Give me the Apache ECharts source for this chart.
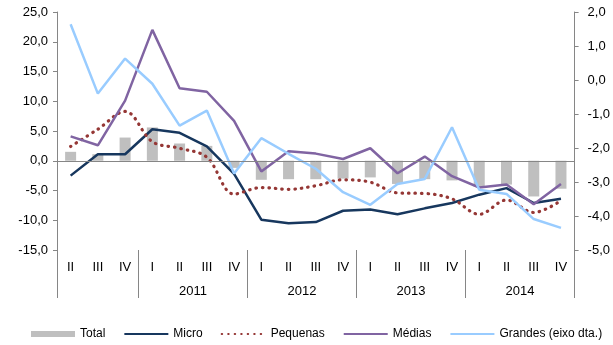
<!DOCTYPE html>
<html>
<head>
<meta charset="utf-8">
<script src="https://cdn.jsdelivr.net/npm/echarts@6/dist/echarts.min.js"></script>
<style>
  html, body { margin: 0; padding: 0; background: #fff; }
  #myChart { width: 613px; height: 345px; }
</style>
</head>
<body>
<div id="myChart"></div>
<script>
// trimestres (o 1º grupo é 2010, sem rótulo de ano)
const quarters = ['II', 'III', 'IV', 'I', 'II', 'III', 'IV', 'I', 'II', 'III', 'IV', 'I', 'II', 'III', 'IV', 'I', 'II', 'III', 'IV'];
const years = ['', '2011', '2012', '2013', '2014'];
const yearSizes = [3, 4, 4, 4, 4];

const total = [1.5, 1.1, 3.9, 5.6, 2.9, 2.5, -1.2, -3.2, -3.1, -3.1, -3.0, -2.8, -3.9, -3.1, -3.3, -4.4, -4.0, -6.0, -4.7];
const micro = [-2.5, 1.1, 1.1, 5.3, 4.7, 2.4, -2.2, -9.9, -10.5, -10.3, -8.4, -8.2, -9.0, -8.0, -7.1, -5.7, -4.6, -7.1, -6.4];
const pequenas = [2.4, 5.3, 8.3, 3.2, 2.1, 0.6, -5.6, -4.5, -4.8, -4.2, -3.2, -3.6, -5.4, -5.5, -6.4, -9.0, -6.6, -8.7, -6.7];
const medias = [4.1, 2.6, 10.1, 22.0, 12.2, 11.6, 6.7, -1.8, 1.6, 1.2, 0.3, 2.1, -2.1, 0.7, -2.6, -4.5, -4.0, -7.3, -3.9];
// eixo da direita
const grandes = [1.64, -0.40, 0.63, -0.11, -1.34, -0.90, -2.75, -1.71, -2.17, -2.61, -3.30, -3.67, -3.06, -2.91, -1.39, -3.23, -3.35, -4.09, -4.35];

// eixo dos anos: rótulo a meio de cada grupo, traço no início de cada grupo
const yearData = [];
const yearStarts = [];
years.forEach(function (y, g) {
  yearStarts.push(yearData.length);
  for (let k = 0; k < yearSizes[g]; k++) {
    yearData.push(k === Math.floor((yearSizes[g] - 1) / 2) ? y : '');
  }
});

const font = 'Liberation Sans, Arial, sans-serif';
const gray = '#868686';
const fmt = function (v) { return v.toFixed(1).replace('.', ','); };
const noSymbol = { opacity: 0 }; // esconde o círculo no ícone da legenda

let myChart = echarts.init(document.getElementById('myChart'));
myChart.setOption({
  animation: false,
  grid: { left: 57, right: 35, top: 12, bottom: 95 },
  legend: {
    left: 26,
    top: 323,
    itemWidth: 44,
    itemHeight: 6,
    itemGap: 18,
    selectedMode: false,
    textStyle: { fontSize: 12, color: '#000', fontFamily: font },
    data: [
      { name: 'Total', icon: 'rect' },
      { name: 'Micro', itemStyle: noSymbol },
      { name: 'Pequenas', itemStyle: noSymbol },
      { name: 'Médias', itemStyle: noSymbol },
      { name: 'Grandes (eixo dta.)', itemStyle: noSymbol }
    ]
  },
  xAxis: [
    {
      type: 'category',
      position: 'bottom',
      data: quarters,
      axisLine: { show: false, onZero: false },
      axisTick: { show: false },
      axisLabel: { interval: 0, margin: 11, fontSize: 13, color: '#000', fontFamily: font }
    },
    {
      type: 'category',
      position: 'bottom',
      data: yearData,
      axisLine: { show: false, onZero: false },
      axisTick: {
        show: true,
        length: 48,
        interval: function (index) { return yearStarts.indexOf(index) >= 0; },
        lineStyle: { color: gray }
      },
      axisLabel: {
        interval: function (index, value) { return value !== ''; },
        margin: 35,
        padding: [0, 0, 0, 27],
        fontSize: 13, color: '#000', fontFamily: font
      }
    }
  ],
  yAxis: [
    {
      type: 'value',
      position: 'left',
      min: -15, max: 25, interval: 5,
      splitLine: { show: false },
      axisLine: { show: true, lineStyle: { color: gray } },
      axisTick: { show: true, length: 4, lineStyle: { color: gray } },
      axisLabel: { margin: 9, fontSize: 13, color: '#000', fontFamily: font, formatter: fmt }
    },
    {
      type: 'value',
      position: 'right',
      min: -5, max: 2, interval: 1,
      splitLine: { show: false },
      axisLine: { show: true, lineStyle: { color: gray } },
      axisTick: { show: true, length: 4, lineStyle: { color: gray } },
      axisLabel: { margin: 13, fontSize: 13, color: '#000', fontFamily: font, formatter: fmt }
    }
  ],
  series: [
    {
      name: 'Total',
      type: 'bar',
      data: total,
      barWidth: 11,
      itemStyle: { color: '#BFBFBF' },
      markLine: {
        silent: true,
        symbol: 'none',
        label: { show: false },
        lineStyle: { color: gray, width: 1, type: 'solid' },
        data: [{ yAxis: 0 }]
      }
    },
    {
      name: 'Micro',
      type: 'line',
      data: micro,
      symbol: 'none',
      lineStyle: { color: '#17375E', width: 2.5 },
      itemStyle: { color: '#17375E' }
    },
    {
      name: 'Pequenas',
      type: 'line',
      data: pequenas,
      symbol: 'none',
      smooth: 0.35,
      lineStyle: { color: '#953735', width: 3.2, type: [0.5, 6], cap: 'round' },
      itemStyle: { color: '#953735' }
    },
    {
      name: 'Médias',
      type: 'line',
      data: medias,
      symbol: 'none',
      lineStyle: { color: '#8064A2', width: 2.5 },
      itemStyle: { color: '#8064A2' }
    },
    {
      name: 'Grandes (eixo dta.)',
      type: 'line',
      yAxisIndex: 1,
      data: grandes,
      symbol: 'none',
      lineStyle: { color: '#99CCFF', width: 2.5 },
      itemStyle: { color: '#99CCFF' }
    }
  ]
});
</script>
</body>
</html>
